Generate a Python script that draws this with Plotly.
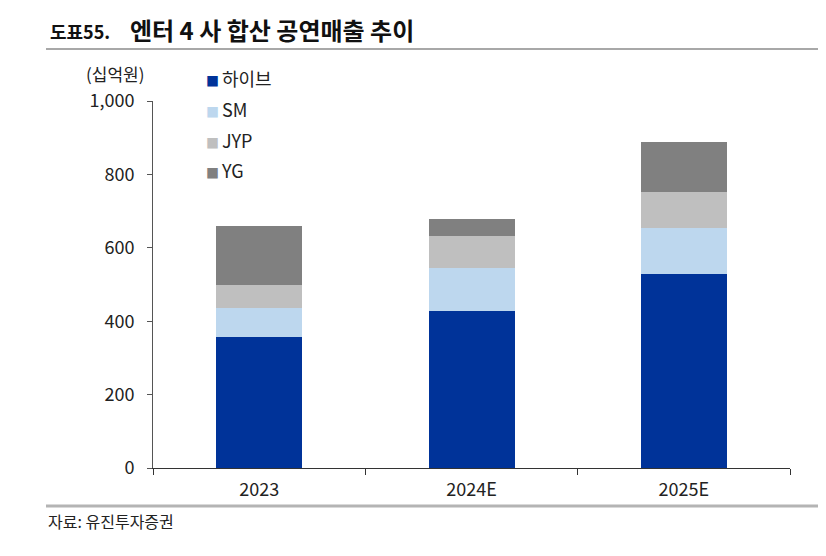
import plotly.graph_objects as go

categories = ["2023", "2024E", "2025E"]
series_names = ["하이브", "SM", "JYP", "YG"]
hybe = [357, 429, 529]
sm = [78, 115, 124]
jyp = [63, 88, 99]
yg = [162, 46, 137]
series_values = [hybe, sm, jyp, yg]
colors = ["#003399", "#BDD7EE", "#BFBFBF", "#808080"]
y_ticks = [0, 200, 400, 600, 800, 1000]

FONT = "Noto Sans CJK KR"
fig = go.Figure()
for name, vals, col in zip(series_names, series_values, colors):
    fig.add_trace(go.Bar(x=categories, y=vals, name=name, marker_color=col,
                         marker_line_width=0, showlegend=False))

OFF = 8  # page body margin
# target plot area in screen pixels: x 153..790, y 101..468
L, R, T, B = 153, 790, 101, 468
W, H = 826 - OFF, 556 - OFF
def px(x):
    return (x - L) / (R - L)
def py(y):
    return (B - y) / (B - T)

annotations = []
leg_y = [78, 109, 140, 170]
for name, col, yy in zip(series_names, colors, leg_y):
    annotations.append(dict(
        x=px(204), y=py(yy), xref="paper", yref="paper", xanchor="left", yanchor="middle",
        text=f'<span style="color:{col};font-size:13px">■ </span>{name}', showarrow=False,
        font=dict(family=FONT, size=18, color="#222222")))
annotations += [
    dict(x=px(48), y=py(31), xref="paper", yref="paper", xanchor="left", yanchor="middle",
         text="<b>도표55.</b>", showarrow=False, font=dict(family=FONT, size=18, color="#111111")),
    dict(x=px(128), y=py(30), xref="paper", yref="paper", xanchor="left", yanchor="middle",
         text="<b>엔터 4 사 합산 공연매출 추이</b>", showarrow=False,
         font=dict(family=FONT, size=24, color="#111111")),
    dict(x=px(146), y=py(73), xref="paper", yref="paper", xanchor="right", yanchor="middle",
         text="(십억원)", showarrow=False, font=dict(family=FONT, size=17, color="#222222")),
    dict(x=px(46), y=py(521), xref="paper", yref="paper", xanchor="left", yanchor="middle",
         text="자료: 유진투자증권", showarrow=False, font=dict(family=FONT, size=16, color="#222222")),
]

shapes = [
    dict(type="line", xref="paper", yref="paper", x0=px(46), x1=px(840), y0=py(49), y1=py(49),
         line=dict(color="#A8A8A8", width=2)),
    dict(type="line", xref="paper", yref="paper", x0=px(46), x1=px(840), y0=py(506), y1=py(506),
         line=dict(color="#B4B4B4", width=3)),
]

fig.update_layout(
    width=W, height=H,
    margin=dict(l=L - OFF, r=(W + OFF) - R, t=T - OFF, b=(H + OFF) - B, pad=0),
    barmode="stack", bargap=0.595,
    plot_bgcolor="white", paper_bgcolor="white",
    font=dict(family=FONT, size=18, color="#222222"),
    annotations=annotations, shapes=shapes,
    showlegend=False,
)
fig.update_xaxes(type="category", showline=True, linecolor="#333333", linewidth=1,
                 ticks="outside", tickson="boundaries", ticklen=6, tickcolor="#333333",
                 ticklabelstandoff=5,
                 showgrid=False, tickfont=dict(family=FONT, size=18, color="#222222"))
fig.update_yaxes(range=[0, 1000], tickvals=y_ticks, tickformat=",", showline=True,
                 linecolor="#555555", linewidth=1, ticks="outside", ticklen=5,
                 tickcolor="#555555", showgrid=False, zeroline=False, ticklabelstandoff=9,
                 tickfont=dict(family=FONT, size=18, color="#222222"))

fig.write_html("out.html")
